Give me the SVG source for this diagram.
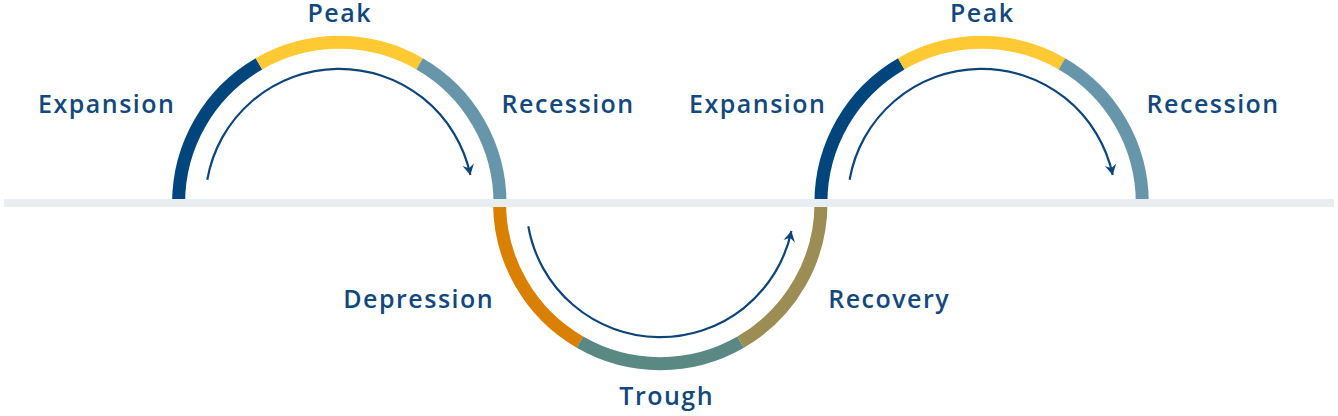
<svg xmlns="http://www.w3.org/2000/svg" width="1338" height="416" viewBox="0 0 1338 416">
<style>
.seg{fill:none;stroke-width:13;stroke-linecap:butt}
.flow{fill:none;stroke:#0E4579;stroke-width:2.2}
.lbl{font-family:"Open Sans","Noto Sans",sans-serif;font-size:25px;font-weight:600;letter-spacing:1.5px;fill:#13487C;text-anchor:middle}
</style>
<defs>
<marker id="ah" markerUnits="userSpaceOnUse" markerWidth="14" markerHeight="14" viewBox="-10 -6 12 12" refX="0" refY="0" orient="auto">
<path d="M0,0 L-9,-5 L-6,0 L-9,5 Z" fill="#0E4579"/>
</marker>
</defs>
<g id="arc-upper-1">
<path class="seg" stroke="#00457C" d="M178.6,203 A160.7,160.7 0 0 1 258.95,63.83"/>
<path class="seg" stroke="#FFC933" d="M258.95,63.83 A160.7,160.7 0 0 1 419.65,63.83"/>
<path class="seg" stroke="#6796AA" d="M419.65,63.83 A160.7,160.7 0 0 1 500,203"/>
</g>
<g id="arc-lower">
<path class="seg" stroke="#D98000" d="M499.6,203 A160.7,160.7 0 0 0 579.95,342.17"/>
<path class="seg" stroke="#5A8984" d="M579.95,342.17 A160.7,160.7 0 0 0 740.65,342.17"/>
<path class="seg" stroke="#9C8D55" d="M740.65,342.17 A160.7,160.7 0 0 0 821,203"/>
</g>
<g id="arc-upper-2">
<path class="seg" stroke="#00457C" d="M820.9,203 A160.7,160.7 0 0 1 901.25,63.83"/>
<path class="seg" stroke="#FFC933" d="M901.25,63.83 A160.7,160.7 0 0 1 1061.95,63.83"/>
<path class="seg" stroke="#6796AA" d="M1061.95,63.83 A160.7,160.7 0 0 1 1142.3,203"/>
</g>
<rect id="baseline" x="4" y="199" width="1330" height="8" fill="#E8EDF1"/>
<g id="connectors">
<path class="flow" marker-end="url(#ah)" d="M207.3,179.7 A134,134 0 0 1 470.4,175.1"/>
<path class="flow" marker-end="url(#ah)" d="M528.3,226.3 A134,134 0 0 0 791.4,230.9"/>
<path class="flow" marker-end="url(#ah)" d="M849.6,179.7 A134,134 0 0 1 1112.7,175.1"/>
</g>
<g id="label-expansion-1"><text class="lbl" x="106.7" y="113">Expansion</text></g>
<g id="label-peak-1"><text class="lbl" x="339.7" y="22">Peak</text></g>
<g id="label-recession-1"><text class="lbl" x="568.2" y="113">Recession</text></g>
<g id="label-depression"><text class="lbl" x="418.7" y="308">Depression</text></g>
<g id="label-trough"><text class="lbl" x="666.7" y="405">Trough</text></g>
<g id="label-recovery"><text class="lbl" x="889.2" y="308">Recovery</text></g>
<g id="label-expansion-2"><text class="lbl" x="757.7" y="113">Expansion</text></g>
<g id="label-peak-2"><text class="lbl" x="982.2" y="22">Peak</text></g>
<g id="label-recession-2"><text class="lbl" x="1213.2" y="113">Recession</text></g>
</svg>
